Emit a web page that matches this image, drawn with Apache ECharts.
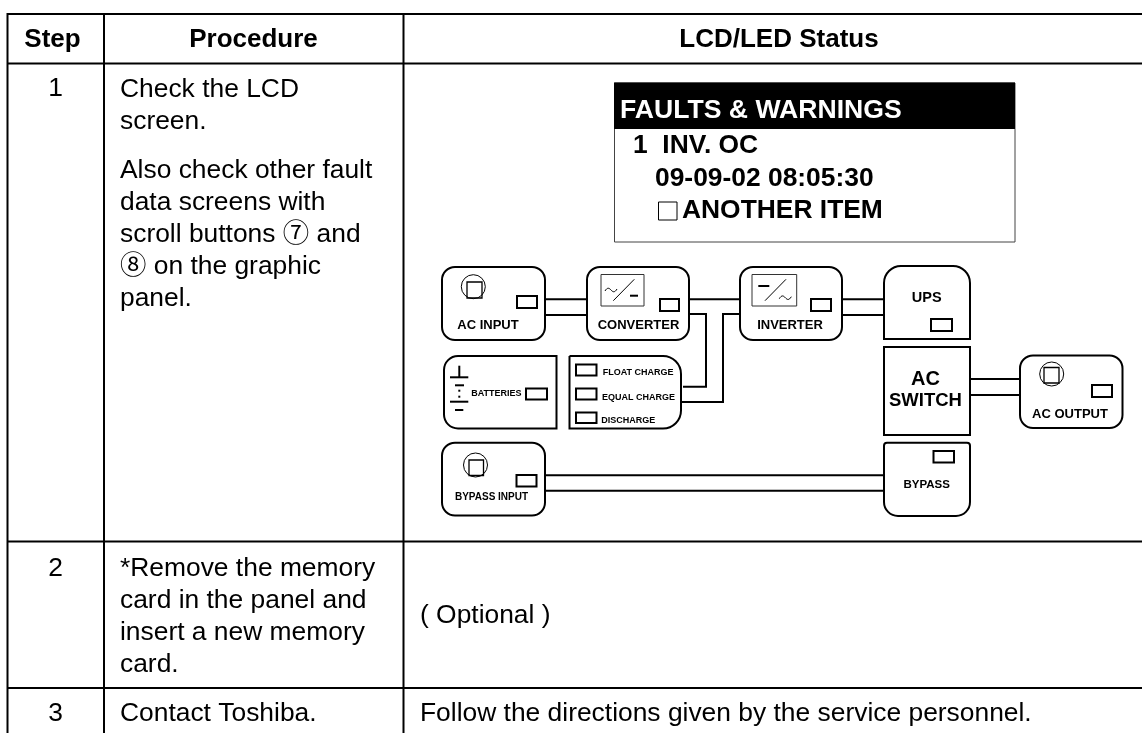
<!DOCTYPE html>
<html>

<head>
  <meta charset="utf-8">
  <script src="https://cdn.jsdelivr.net/npm/echarts@6/dist/echarts.min.js"></script>
  <style>
    html, body {
      margin: 0;
      background: #fff;
    }

    #chart {
      width: 1142px;
      height: 733px;
    }
  </style>
</head>

<body>
  <div id="chart"></div>
  <script>
    const headers = ['Step', 'Procedure', 'LCD/LED Status']
    const steps = ['1', '2', '3']
    const procedure1a = ['Check the LCD', 'screen.']
    const procedure1b = ['Also check other fault', 'data screens with', 'scroll buttons ⑦ and', '⑧ on the graphic', 'panel.']
    const procedure2 = ['*Remove the memory', 'card in the panel and', 'insert a new memory', 'card.']
    const procedure3 = ['Contact Toshiba.']
    const status2 = '( Optional )'
    const status3 = 'Follow the directions given by the service personnel.'
    const lcdTitle = 'FAULTS & WARNINGS'
    const lcdLines = ['1  INV. OC', '09-09-02 08:05:30', 'ANOTHER ITEM']
    const chargeLabels = ['FLOAT CHARGE', 'EQUAL CHARGE', 'DISCHARGE']

    const FONT = '"Liberation Sans", "Noto Sans CJK SC", sans-serif'
    const BODY = 26.4
    const els = []

    function text(str, x, baseline, size, opt = {}) {
      els.push({
        type: 'text',
        z: 5,
        style: {
          text: str,
          x,
          y: baseline - size * 0.34,
          font: (opt.bold ? 'bold ' : '') + size + 'px ' + FONT,
          fill: opt.fill || '#000',
          align: opt.align || 'left',
          verticalAlign: 'middle'
        }
      })
    }

    function line(x1, y1, x2, y2, w = 2) {
      els.push({
        type: 'line',
        shape: { x1, y1, x2, y2 },
        style: { stroke: '#000', lineWidth: w }
      })
    }

    function poly(points, w = 2) {
      els.push({
        type: 'polyline',
        shape: { points },
        style: { stroke: '#000', lineWidth: w, fill: null }
      })
    }

    function box(x, y, x2, y2, r = 0, w = 2, stroke = '#000', fill = '#fff') {
      els.push({
        type: 'rect',
        shape: { x, y, width: x2 - x, height: y2 - y, r },
        style: { stroke, lineWidth: w, fill },
        z: 2
      })
    }

    function led(x, y, x2, y2) {
      els.push({
        type: 'rect',
        z: 3,
        shape: { x, y, width: x2 - x, height: y2 - y },
        style: { stroke: '#000', lineWidth: 2, fill: '#fff' }
      })
    }

    function knob(cx, cy, x, y, x2, y2) {
      els.push({
        type: 'circle',
        z: 3,
        shape: { cx, cy, r: 12 },
        style: { stroke: '#000', lineWidth: 1, fill: '#fff' }
      })
      els.push({
        type: 'rect',
        z: 3,
        shape: { x, y, width: x2 - x, height: y2 - y },
        style: { stroke: '#000', lineWidth: 1.3, fill: null }
      })
    }

    function tilde(x, y, w) {
      const half = w / 2
      els.push({
        type: 'bezierCurve',
        z: 3,
        shape: { x1: x, y1: y + 1, cpx1: x + half * 0.4, cpy1: y - 3, cpx2: x + half * 0.7, cpy2: y - 2, x2: x + half, y2: y },
        style: { stroke: '#000', lineWidth: 1, fill: null }
      })
      els.push({
        type: 'bezierCurve',
        z: 3,
        shape: { x1: x + half, y1: y, cpx1: x + half * 1.3, cpy1: y + 2, cpx2: x + half * 1.6, cpy2: y + 3, x2: x + w, y2: y - 1 },
        style: { stroke: '#000', lineWidth: 1, fill: null }
      })
    }

    function symbol(x, y, x2, y2) {
      els.push({
        type: 'rect',
        z: 3,
        shape: { x, y, width: x2 - x, height: y2 - y },
        style: { stroke: '#333', lineWidth: 1, fill: '#fff' }
      })
    }

    function zline(x1, y1, x2, y2, w) {
      els.push({
        type: 'line',
        z: 4,
        shape: { x1, y1, x2, y2 },
        style: { stroke: '#000', lineWidth: w }
      })
    }

    // table grid, runs off the right edge of the page
    line(7, 14, 1142, 14)
    line(7, 63.5, 1142, 63.5)
    line(7, 541.5, 1142, 541.5)
    line(7, 688, 1142, 688)
    line(7.5, 13, 7.5, 733)
    line(104, 14, 104, 733)
    line(403.5, 14, 403.5, 733)

    // headers
    text(headers[0], 52.5, 49, 26, { bold: true, align: 'center' })
    text(headers[1], 253.5, 49, 26, { bold: true, align: 'center' })
    text(headers[2], 779, 49, 26, { bold: true, align: 'center' })

    // step numbers
    text(steps[0], 55.5, 98, BODY, { align: 'center' })
    text(steps[1], 55.5, 578, BODY, { align: 'center' })
    text(steps[2], 55.5, 723, BODY, { align: 'center' })

    // procedure column
    procedure1a.forEach((t, i) => text(t, 120, 98.3 + i * 32.5, BODY))
    procedure1b.forEach((t, i) => text(t, 120, 180 + i * 31.8, BODY))
    procedure2.forEach((t, i) => text(t, 120, 578 + i * 31.8, BODY))
    text(procedure3[0], 120, 723, BODY)

    // status column
    text(status2, 420, 625, BODY)
    text(status3, 420, 723, BODY)

    // LCD screen
    box(614.5, 83, 1015, 242, 0, 1, '#444', '#fff')
    els.push({
      type: 'rect',
      z: 3,
      shape: { x: 614, y: 82.5, width: 401, height: 46.5 },
      style: { fill: '#000' }
    })
    text(lcdTitle, 620, 120, 26.6, { bold: true, fill: '#fff' })
    text(lcdLines[0], 633, 155, BODY, { bold: true })
    text(lcdLines[1], 655, 188, BODY, { bold: true })
    box(658.5, 202, 677, 220, 0, 1, '#000', null)
    text(lcdLines[2], 682, 220, BODY, { bold: true })

    // double connectors
    line(545, 299.3, 587, 299.3)
    line(545, 315, 587, 315)
    line(689, 299.3, 740, 299.3)
    poly([[689, 314], [706, 314], [706, 386.7], [683, 386.7]])
    poly([[740, 314], [723, 314], [723, 402], [682, 402]])
    line(842, 299.3, 884, 299.3)
    line(842, 315, 884, 315)
    line(970, 379, 1020, 379)
    line(970, 395, 1020, 395)
    line(545, 475.3, 884, 475.3)
    line(545, 490.7, 884, 490.7)

    // AC INPUT
    box(442, 267, 545, 340, 13)
    knob(473.3, 286.7, 467, 282, 482, 298)
    led(517, 296, 537, 308)
    text('AC INPUT', 488, 330, 13, { bold: true, align: 'center' })

    // CONVERTER
    box(587, 267, 689, 340, 13)
    symbol(601, 274.5, 644, 306)
    tilde(605, 290, 12)
    zline(613.3, 300.7, 634.3, 279.3, 1)
    zline(630, 295.7, 638, 295.7, 2)
    led(660, 299, 679, 311)
    text('CONVERTER', 638.5, 330, 13, { bold: true, align: 'center' })

    // INVERTER
    box(740, 267, 842, 340, 13)
    symbol(752, 274.5, 796.7, 306)
    zline(758.3, 286, 769.3, 286, 2)
    zline(765, 300.7, 786, 279.3, 1)
    tilde(779.3, 297.7, 12)
    led(811, 299, 831, 311)
    text('INVERTER', 790, 330, 13, { bold: true, align: 'center' })

    // UPS
    box(884, 266, 970, 339, [17, 17, 0, 0])
    text('UPS', 926.7, 302.5, 14.5, { bold: true, align: 'center' })
    led(931, 319, 952, 331)

    // AC SWITCH
    box(884, 347, 970, 435)
    text('AC', 925.5, 386, 20, { bold: true, align: 'center' })
    text('SWITCH', 925.5, 407.5, 18.5, { bold: true, align: 'center' })

    // AC OUTPUT
    box(1020, 355.5, 1122.5, 428, 13)
    knob(1051.7, 374, 1044, 367.5, 1059, 383)
    led(1092, 385, 1112, 397)
    text('AC OUTPUT', 1070, 419, 13, { bold: true, align: 'center' })

    // BATTERIES
    box(444, 356, 556.5, 428.5, [14, 0, 0, 14])
    zline(459.3, 365.7, 459.3, 377.3, 2)
    zline(450, 377.3, 468.3, 377.3, 2)
    zline(455, 385.3, 464, 385.3, 2)
    zline(459.3, 389.7, 459.3, 391.7, 2)
    zline(459.3, 395.7, 459.3, 397.7, 2)
    zline(450, 401.7, 468.3, 401.7, 2)
    zline(455, 410, 463.3, 410, 2)
    text('BATTERIES', 496.3, 397, 9, { bold: true, align: 'center' })
    led(526, 388.5, 547, 399.5)

    // charge state box
    box(569.5, 356, 681, 428.5, [0, 18, 18, 0])
    led(576, 364.5, 596.5, 375.5)
    led(576, 388.5, 596.5, 399.5)
    led(576, 412.5, 596.5, 423)
    text(chargeLabels[0], 602.7, 376, 9, { bold: true })
    text(chargeLabels[1], 602, 401, 9, { bold: true })
    text(chargeLabels[2], 601.3, 424, 9, { bold: true })

    // BYPASS INPUT
    box(442, 442.7, 545, 515.5, 13)
    knob(475.5, 465, 469, 460, 483.5, 475.5)
    led(516.5, 475, 536.5, 486.5)
    text('BYPASS INPUT', 491.5, 501, 10, { bold: true, align: 'center' })

    // BYPASS
    box(884, 442.7, 970, 516, [3, 3, 14, 14])
    led(933.5, 451, 954, 462.5)
    text('BYPASS', 926.7, 488.5, 11.5, { bold: true, align: 'center' })

    const chart = echarts.init(document.getElementById('chart'), null, { renderer: 'canvas' })
    chart.setOption({
      backgroundColor: '#fff',
      animation: false,
      graphic: { elements: els }
    })
  </script>
</body>

</html>
